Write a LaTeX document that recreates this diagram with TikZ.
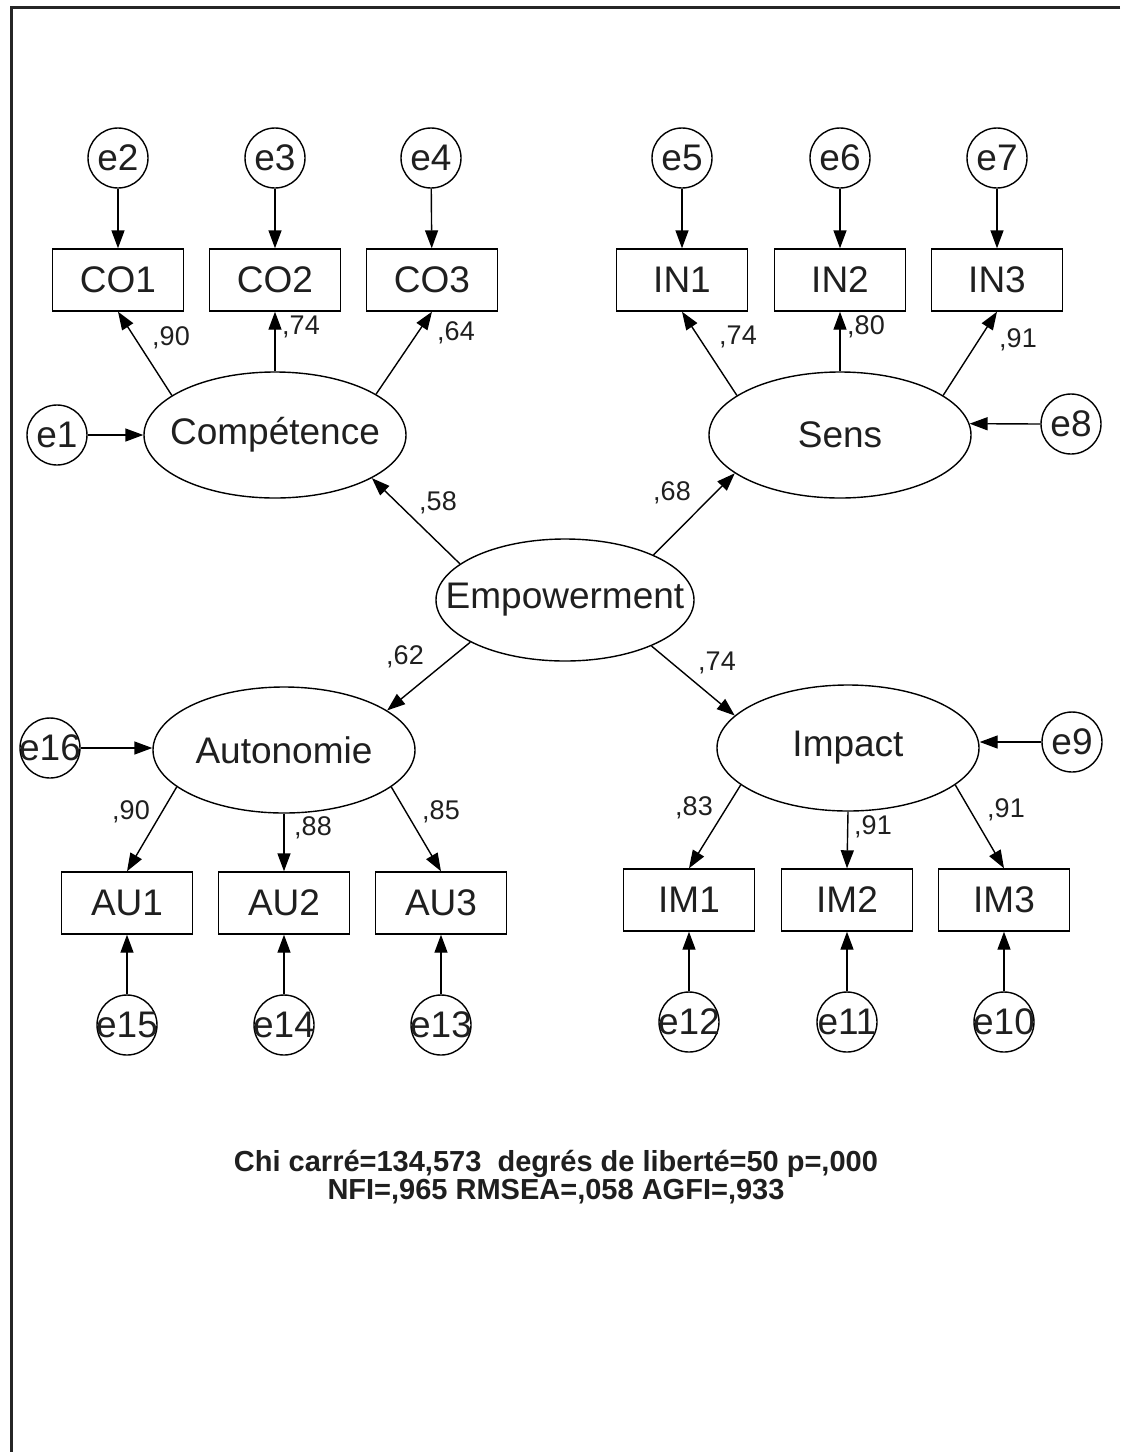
\documentclass[tikz,border=0pt]{standalone}
\usepackage{fontspec}
\setmainfont{Liberation Sans}
\usetikzlibrary{arrows.meta,shapes.geometric}
\newcommand{\zb}[1]{\makebox[0pt][c]{#1}}
\begin{document}
\begin{tikzpicture}[x=1pt,y=-1pt,
  every node/.style={text=black!88},
  obs/.style={draw, line width=1.4pt, minimum width=131pt, minimum height=62pt, inner sep=0pt, font=\fontsize{37}{40}\selectfont},
  err/.style={draw, circle, line width=1.4pt, minimum size=60pt, inner sep=0pt, font=\fontsize{37}{40}\selectfont},
  lat/.style={draw, ellipse, line width=1.4pt, minimum width=262pt, minimum height=126pt, inner sep=0pt, font=\fontsize{37}{40}\selectfont},
  arr/.style={line width=1.4pt, -{Triangle[length=18pt,width=13pt]}},
  lbl/.style={font=\fontsize{27}{30}\selectfont, inner sep=0pt},
  stat/.style={font=\fontsize{29}{25}\selectfont\bfseries, inner sep=0pt, align=center},
  framestyle/.style={line width=3pt, draw=black!85}]
\useasboundingbox (0,0) rectangle (1120,1452);
% frame
\coordinate (fTL) at (11,7);
\coordinate (fTR) at (1120,7);
\coordinate (fBL) at (11,1452);
\draw[framestyle] (fTR) -- (fTL) -- (fBL);

% latent
\node[lat] (Comp) at (275,435) {\zb{Compétence}};
\node[lat] (Sens) at (840,435) {\zb{Sens}};
\node[lat, minimum width=258pt, minimum height=122pt] (Emp) at (565,600) {\zb{Empowerment}};
\node[lat] (Auto) at (284,750) {\zb{Autonomie}};
\node[lat] (Imp) at (848,748) {\zb{Impact}};

% observed
\node[obs] (CO1) at (118,280) {CO1};
\node[obs] (CO2) at (275,280) {CO2};
\node[obs] (CO3) at (432,280) {CO3};
\node[obs] (IN1) at (682,280) {IN1};
\node[obs] (IN2) at (840,280) {IN2};
\node[obs] (IN3) at (997,280) {IN3};
\node[obs] (AU1) at (127,903) {AU1};
\node[obs] (AU2) at (284,903) {AU2};
\node[obs] (AU3) at (441,903) {AU3};
\node[obs] (IM1) at (689,900) {IM1};
\node[obs] (IM2) at (847,900) {IM2};
\node[obs] (IM3) at (1004,900) {IM3};

% errors
\node[err] (e1) at (57,435) {\zb{e1}};
\node[err] (e2) at (118,158) {\zb{e2}};
\node[err] (e3) at (275,158) {\zb{e3}};
\node[err] (e4) at (431,158) {\zb{e4}};
\node[err] (e5) at (682,158) {\zb{e5}};
\node[err] (e6) at (840,158) {\zb{e6}};
\node[err] (e7) at (997,158) {\zb{e7}};
\node[err] (e8) at (1071,424) {\zb{e8}};
\node[err] (e9) at (1072,742) {\zb{e9}};
\node[err] (e10) at (1004,1022) {\zb{e10}};
\node[err] (e11) at (847,1022) {\zb{e11}};
\node[err] (e12) at (689,1022) {\zb{e12}};
\node[err] (e13) at (441,1025) {\zb{e13}};
\node[err] (e14) at (284,1025) {\zb{e14}};
\node[err] (e15) at (127,1025) {\zb{e15}};
\node[err] (e16) at (50,748) {\zb{e16}};

% error arrows
\draw[arr] (e2) -- (CO1);
\draw[arr] (e3) -- (CO2);
\draw[arr] (e4) -- (CO3);
\draw[arr] (e5) -- (IN1);
\draw[arr] (e6) -- (IN2);
\draw[arr] (e7) -- (IN3);
\draw[arr] (e15) -- (AU1);
\draw[arr] (e14) -- (AU2);
\draw[arr] (e13) -- (AU3);
\draw[arr] (e12) -- (IM1);
\draw[arr] (e11) -- (IM2);
\draw[arr] (e10) -- (IM3);
\draw[arr] (e1.east) -- (Comp.west);
\draw[arr] (e8.west) -- (Sens.5);
\draw[arr] (e16.east) -- (e16.east -| Auto.west);
\draw[arr] (e9.west) -- (e9.west -| Imp.east);

% loadings
\draw[arr] (Comp.159) -- (CO1.south);
\draw[arr] (Comp.north) -- (CO2.south);
\draw[arr] (Comp.22) -- (CO3.south);
\draw[arr] (Sens.159) -- (IN1.south);
\draw[arr] (Sens.north) -- (IN2.south);
\draw[arr] (Sens.21) -- (IN3.south);
\draw[arr] (Auto.199) -- (AU1.north);
\draw[arr] (Auto.south) -- (AU2.north);
\draw[arr] (Auto.-19) -- (AU3.north);
\draw[arr] (Imp.199) -- (IM1.north);
\draw[arr] (Imp.south) -- (IM2.north);
\draw[arr] (Imp.-19) -- (IM3.north);

% structural
\draw[arr] (Emp.161) -- (Comp.-24);
\draw[arr] (Emp.27) -- (Sens.-160);
\draw[arr] (Emp.204) -- (Auto.21);
\draw[arr] (Emp.-28) -- (Imp.164);

% labels
\node[lbl] (l1) at (171,338) {,90};
\node[lbl] (l2) at (301,327) {,74};
\node[lbl] (l3) at (456,333) {,64};
\node[lbl] (l4) at (738,337) {,74};
\node[lbl] (l5) at (866,327) {,80};
\node[lbl] (l6) at (1018,340) {,91};
\node[lbl] (l7) at (438,503) {,58};
\node[lbl] (l8) at (672,493) {,68};
\node[lbl] (l9) at (405,657) {,62};
\node[lbl] (l10) at (717,663) {,74};
\node[lbl] (l11) at (131,812) {,90};
\node[lbl] (l12) at (313,828) {,88};
\node[lbl] (l13) at (441,812) {,85};
\node[lbl] (l14) at (694,808) {,83};
\node[lbl] (l15) at (873,827) {,91};
\node[lbl] (l16) at (1006,810) {,91};

% statistics
\node[stat] (stats) at (556,1177) {Chi carré=134,573\ \ degrés de liberté=50 p=,000\\NFI=,965 RMSEA=,058 AGFI=,933};
\end{tikzpicture}
\end{document}
